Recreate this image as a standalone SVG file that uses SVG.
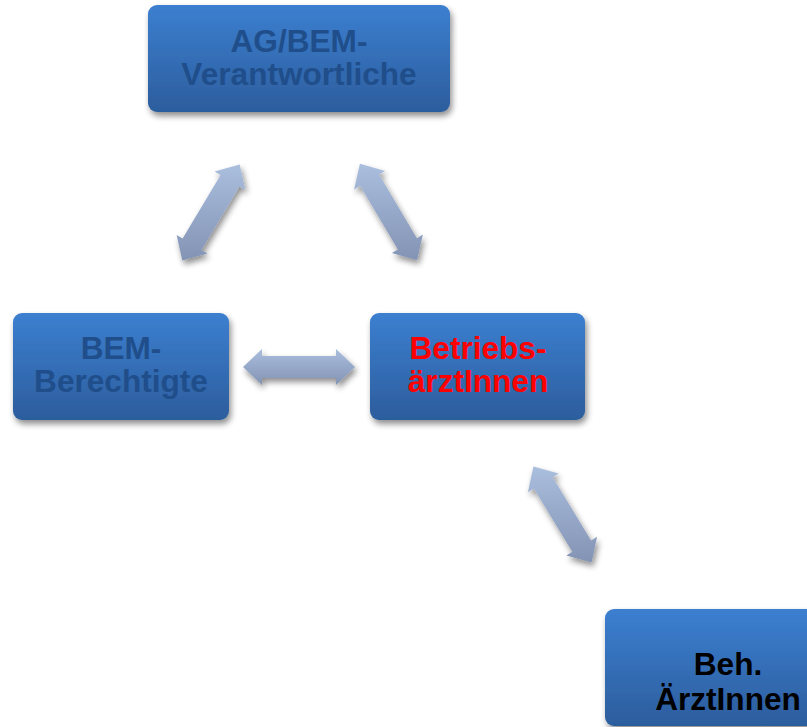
<svg xmlns="http://www.w3.org/2000/svg" width="807" height="727" viewBox="0 0 807 727">
<defs>
<linearGradient id="boxg" x1="0" y1="0" x2="0" y2="1">
<stop offset="0" stop-color="#3c7fd0"/>
<stop offset="1" stop-color="#2c5d9d"/>
</linearGradient>
<linearGradient id="arrg" x1="0" y1="0" x2="0" y2="1">
<stop offset="0" stop-color="#aabede"/>
<stop offset="1" stop-color="#8393b4"/>
</linearGradient>
<filter id="sh" x="-20%" y="-20%" width="150%" height="150%">
<feGaussianBlur in="SourceAlpha" stdDeviation="3"/>
<feOffset dx="2" dy="4" result="b"/>
<feComponentTransfer><feFuncA type="linear" slope="0.45"/></feComponentTransfer>
<feMerge><feMergeNode/><feMergeNode in="SourceGraphic"/></feMerge>
</filter>
</defs>
<style>
.box{fill:url(#boxg);filter:url(#sh)}
.arr{fill:url(#arrg);filter:url(#sh)}
.t{font-family:"Liberation Sans",Arial,sans-serif;font-weight:bold;font-size:31.6px;text-anchor:middle}
.dk{fill:#1f4e8b}
.rd{fill:#ff0000}
.bk{fill:#000000}
</style>
<g id="connectors">
<polygon class="arr" points="239.7,164.4 245.4,190.0 239.4,186.4 201.5,249.9 207.5,253.5 182.3,260.6 176.6,235.0 182.6,238.6 220.6,175.1 214.5,171.5"/>
<polygon class="arr" points="359.9,163.8 385.1,171.0 379.1,174.6 416.9,238.2 422.9,234.6 417.1,260.2 391.9,253.0 397.9,249.4 360.1,185.8 354.1,189.4"/>
<polygon class="arr" points="243,367 262,349 262,356 336,356 336,349 355,367 336,385 336,378 262,378 262,385"/>
<polygon class="arr" points="533.4,466.6 558.7,473.5 552.7,477.2 591.1,540.4 597.1,536.8 591.6,562.4 566.4,555.5 572.3,551.8 533.9,488.6 527.9,492.2"/>
</g>
<g id="node-ag">
<rect class="box" x="148" y="5" width="302" height="107" rx="9"/>
<text class="t dk" x="299" y="52">AG/BEM-</text>
<text class="t dk" x="299" y="85">Verantwortliche</text>
</g>
<g id="node-bem">
<rect class="box" x="13" y="313" width="216" height="107" rx="9"/>
<text class="t dk" x="121" y="359">BEM-</text>
<text class="t dk" x="121" y="392">Berechtigte</text>
</g>
<g id="node-betriebs">
<rect class="box" x="370" y="313" width="215" height="107" rx="9"/>
<text class="t rd" x="478" y="359">Betriebs-</text>
<text class="t rd" x="478" y="392">ärztInnen</text>
</g>
<g id="node-beh">
<rect class="box" x="605" y="609" width="250" height="117" rx="9"/>
<text class="t bk" x="728" y="675">Beh.</text>
<text class="t bk" x="728" y="710">ÄrztInnen</text>
</g>
</svg>
